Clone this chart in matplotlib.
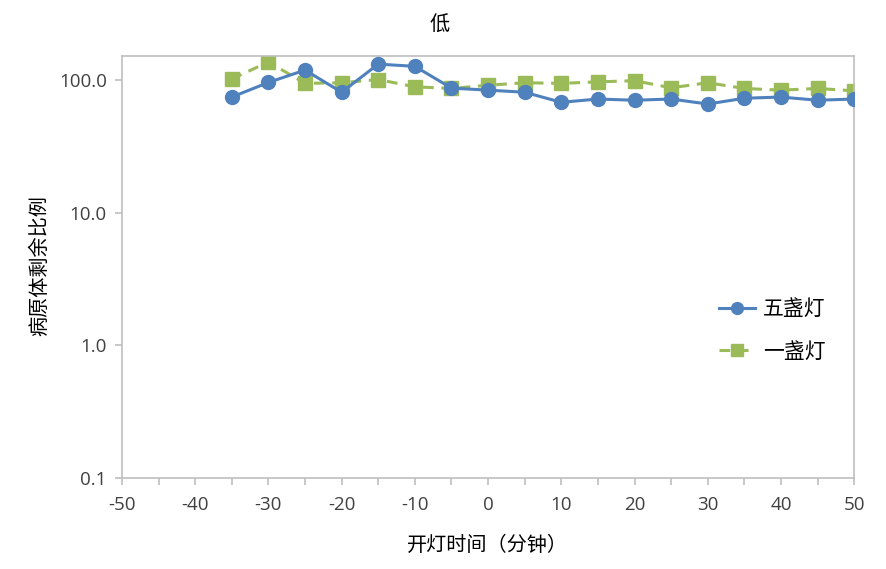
import matplotlib
matplotlib.use('Agg')
import matplotlib.pyplot as plt
from matplotlib.ticker import FixedLocator, NullLocator

plt.rcParams['font.family'] = ['Open Sans', 'Noto Sans CJK SC', 'DejaVu Sans']
plt.rcParams['axes.unicode_minus'] = False

# data
minutes = [-35, -30, -25, -20, -15, -10, -5, 0, 5, 10, 15, 20, 25, 30, 35, 40, 45, 50]
five_lamps = [74.5, 96, 119, 81, 132, 127, 87, 84, 81, 68, 72, 70.5, 72, 66, 73, 74.5, 70.5, 72]
one_lamp = [102, 137, 94.5, 95.5, 101, 89, 86.5, 91.5, 95.5, 94.5, 97, 99, 87.5, 95.5, 86.5, 84, 86.5, 83]
y_ticks = [0.1, 1, 10, 100]
y_labels = ['0.1', '1.0', '10.0', '100.0']

cjk = ['Noto Sans CJK SC', 'DejaVu Sans']
blue = '#4F81BD'
green = '#9BBB59'
grey = '#BFBFBF'

fig = plt.figure(figsize=(8.87, 5.69), dpi=100)
ax = fig.add_axes([0.1375, 0.16, 0.8255, 0.7416])

ax.plot(minutes, five_lamps, color=blue, lw=2.2, marker='o', ms=10,
        label='五盏灯', zorder=3)
ax.plot(minutes, one_lamp, color=green, lw=2.2, ls=(0, (3.5, 2.5)), marker='s', ms=9.5,
        label='一盏灯', zorder=2)

ax.set_yscale('log')
ax.set_ylim(0.1, 152)
ax.set_xlim(-50, 50)
ax.yaxis.set_major_locator(FixedLocator(y_ticks))
ax.yaxis.set_minor_locator(NullLocator())
ax.set_yticks(y_ticks)
ax.set_yticklabels(y_labels)
ax.set_xticks(range(-50, 51, 10))
ax.set_xticks(range(-45, 50, 10), minor=True)

for s in ax.spines.values():
    s.set_color(grey)
    s.set_linewidth(1.2)
ax.tick_params(axis='both', which='both', color=grey, length=5, width=1.2,
               labelsize=13.5, labelcolor='#404040')
ax.tick_params(axis='x', pad=8)
ax.tick_params(axis='y', pad=6)

fig.text(440 / 887, 1 - 25 / 569, '低', family=cjk, fontsize=14.5, ha='center', va='center')
fig.text(40 / 887, 1 - 266 / 569, '病原体剩余比例', family=cjk, fontsize=14.5,
         rotation=90, ha='center', va='center')
fig.text(487 / 887, 1 - 545 / 569, '开灯时间（分钟）', family=cjk, fontsize=14.5,
         ha='center', va='center')

leg = ax.legend(loc='center left', bbox_to_anchor=(0.79, 0.35), frameon=False,
                prop={'family': cjk, 'size': 15}, handlelength=1.7,
                handletextpad=0.4, labelspacing=1.0, markerscale=0.85)

fig.savefig('out.png', dpi=100)
